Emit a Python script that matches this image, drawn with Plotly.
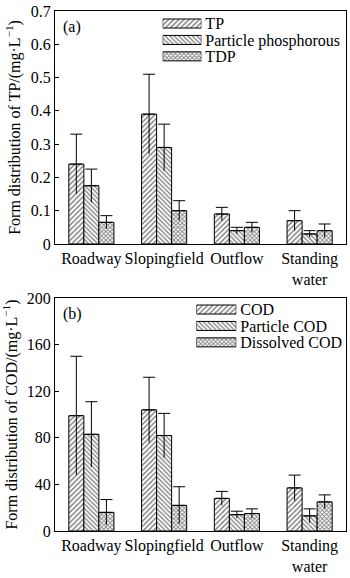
import plotly.graph_objects as go

categories = ["Roadway", "Slopingfield", "Outflow", "Standing<br>water"]

# Panel (a) - phosphorus forms (mg/L)
tp_names = ["TP", "Particle phosphorous", "TDP"]
tp_vals = [
    [0.24, 0.39, 0.09, 0.07],
    [0.175, 0.29, 0.04, 0.03],
    [0.065, 0.10, 0.05, 0.04],
]
tp_errs = [
    [0.09, 0.12, 0.02, 0.03],
    [0.05, 0.07, 0.01, 0.01],
    [0.02, 0.03, 0.015, 0.02],
]

# Panel (b) - COD forms (mg/L)
cod_names = ["COD", "Particle COD", "Dissolved COD"]
cod_vals = [
    [99, 104, 28, 37],
    [83, 82, 14, 13],
    [16, 22, 15, 25],
]
cod_errs = [
    [51, 28, 6, 11],
    [28, 19, 3, 6],
    [11, 16, 4, 6],
]

shapes_ = ["/", "\\", "x"]
sizes_ = [3.6, 3.2, 3]
solid_ = [0.38, 0.4, 0.5]

FONT = "Liberation Serif"
fig = go.Figure()


def add_panel(names, vals, errs, xa, ya):
    for i, (n, v, e) in enumerate(zip(names, vals, errs)):
        fig.add_trace(go.Bar(
            x=categories, y=v, name=n, xaxis=xa, yaxis=ya, showlegend=False,
            offsetgroup=str(i),
            marker=dict(color="white", line=dict(color="black", width=1),
                        pattern=dict(shape=shapes_[i], size=sizes_[i], solidity=solid_[i],
                                     fgcolor="black", bgcolor="white")),
            error_y=dict(type="data", symmetric=False, array=e, arrayminus=[0] * len(e),
                         color="black", thickness=1, width=6),
        ))
    for i, (n, v, e) in enumerate(zip(names, vals, errs)):
        fig.add_trace(go.Bar(
            x=categories, y=v, xaxis=xa, yaxis=ya, showlegend=False,
            offsetgroup=str(i), hoverinfo="skip",
            marker=dict(color="rgba(0,0,0,0)", line=dict(width=0)),
            error_y=dict(type="data", symmetric=False, array=[0] * len(e), arrayminus=e,
                         color="black", thickness=1, width=0),
        ))


def add_key(names, xa, ya):
    # legend key: patterned swatches with the series names as labels
    fig.add_trace(go.Bar(
        y=names, x=[1] * len(names), orientation="h", xaxis=xa, yaxis=ya,
        showlegend=False, hoverinfo="skip", width=0.55,
        marker=dict(color="white", line=dict(color="black", width=1),
                    pattern=dict(shape=shapes_, size=sizes_, solidity=solid_,
                                 fgcolor="black", bgcolor="white")),
    ))


add_panel(tp_names, tp_vals, tp_errs, "x", "y")
add_panel(cod_names, cod_vals, cod_errs, "x2", "y2")
add_key(tp_names, "x3", "y3")
add_key(cod_names, "x4", "y4")

axis_common = dict(showline=True, linecolor="black", linewidth=1, mirror=True,
                   showgrid=False, zeroline=False,
                   tickfont=dict(family=FONT, size=16, color="black"))

key_x = dict(range=[0, 1], visible=False, fixedrange=True)


def key_y(names, domain, anchor):
    return dict(domain=domain, anchor=anchor, autorange="reversed", side="right",
                showline=False, showgrid=False, zeroline=False, ticks="",
                fixedrange=True, tickmode="array", tickvals=names, ticktext=names,
                ticklabelstandoff=3,
                tickfont=dict(family=FONT, size=16, color="black"))


fig.update_layout(
    width=350, height=578,
    margin=dict(l=55, r=3, t=4, b=34),
    paper_bgcolor="white", plot_bgcolor="white",
    barmode="group", bargap=0.38, bargroupgap=0,
    font=dict(family=FONT, size=16, color="black"),
    showlegend=False,
    xaxis=dict(domain=[0, 1], anchor="y", ticks="", **axis_common),
    yaxis=dict(domain=[0.552, 1], anchor="x", range=[0, 0.7], dtick=0.1,
               ticks="inside", ticklen=4, tickcolor="black",
               title=dict(text="Form distribution of TP/(mg·L<sup>−1</sup>)", standoff=6,
                          font=dict(family=FONT, size=16)),
               **axis_common),
    xaxis2=dict(domain=[0, 1], anchor="y2", ticks="", **axis_common),
    yaxis2=dict(domain=[0, 0.448], anchor="x2", range=[0, 200], dtick=40,
                ticks="inside", ticklen=4, tickcolor="black",
                title=dict(text="Form distribution of COD/(mg·L<sup>−1</sup>)", standoff=6,
                           font=dict(family=FONT, size=16)),
                **axis_common),
    xaxis3=dict(domain=[0.37, 0.503], anchor="y3", **key_x),
    yaxis3=key_y(tp_names, [0.897, 0.9917], "x3"),
    xaxis4=dict(domain=[0.486, 0.623], anchor="y4", **key_x),
    yaxis4=key_y(cod_names, [0.347, 0.4417], "x4"),
    annotations=[
        dict(text="(a)", xref="paper", yref="paper", x=0.02, y=0.99, xanchor="left",
             yanchor="top", showarrow=False, font=dict(family=FONT, size=16)),
        dict(text="(b)", xref="paper", yref="paper", x=0.02, y=0.438, xanchor="left",
             yanchor="top", showarrow=False, font=dict(family=FONT, size=16)),
    ],
)

fig.write_html("out.html")
